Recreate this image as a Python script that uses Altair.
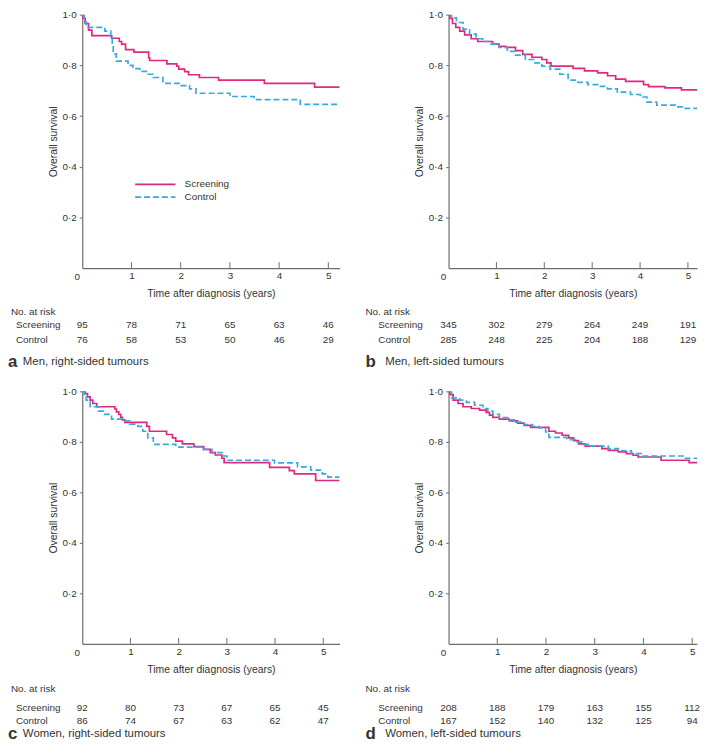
import altair as alt
import pandas as pd

PINK = "#e0287d"
BLUE = "#3aa9de"
TXT = "#333333"
AX = "#6e6e6e"
FONT = "Liberation Sans"
GROUPS = ["Screening", "Control"]
TIME_TICKS = [0, 1, 2, 3, 4, 5]
Y_TICKS = [0.2, 0.4, 0.6, 0.8, 1.0]

# ---- Panel a: Men, right-sided tumours
A_SCR_T = [0, 0.013, 0.06, 0.128, 0.195, 0.598, 0.753, 0.80, 0.88, 1.05, 1.35, 1.37, 1.72, 1.92, 1.96, 2.08, 2.16, 2.38, 2.77, 3.70, 4.72, 5.23]
A_SCR_S = [1.0, 0.985, 0.965, 0.939, 0.917, 0.907, 0.894, 0.884, 0.862, 0.852, 0.83, 0.819, 0.806, 0.797, 0.785, 0.775, 0.763, 0.752, 0.742, 0.729, 0.714, 0.714]
A_CTL_T = [0, 0.04, 0.08, 0.46, 0.58, 0.61, 0.63, 0.69, 0.93, 1.03, 1.17, 1.34, 1.44, 1.64, 2.01, 2.18, 2.31, 3.0, 3.49, 4.43, 5.23]
A_CTL_S = [1.0, 0.972, 0.95, 0.935, 0.914, 0.88, 0.845, 0.817, 0.80, 0.787, 0.776, 0.765, 0.752, 0.729, 0.72, 0.707, 0.69, 0.677, 0.665, 0.646, 0.646]
A_RISK_SCR = [95, 78, 71, 65, 63, 46]
A_RISK_CTL = [76, 58, 53, 50, 46, 29]

# ---- Panel b: Men, left-sided tumours
B_SCR_T = [0, 0.027, 0.082, 0.151, 0.233, 0.336, 0.473, 0.61, 0.919, 1.056, 1.193, 1.399, 1.55, 1.742, 1.948, 2.051, 2.14, 2.6, 2.84, 3.114, 3.32, 3.49, 3.697, 4.074, 4.177, 4.52, 4.863, 5.274, 5.33]
B_SCR_S = [1.0, 0.985, 0.965, 0.95, 0.935, 0.92, 0.905, 0.894, 0.884, 0.875, 0.871, 0.858, 0.843, 0.832, 0.823, 0.81, 0.797, 0.788, 0.778, 0.770, 0.759, 0.746, 0.737, 0.724, 0.716, 0.711, 0.703, 0.694, 0.694]
B_CTL_T = [0, 0.062, 0.165, 0.302, 0.439, 0.576, 0.713, 0.885, 1.056, 1.228, 1.399, 1.605, 1.776, 1.948, 2.119, 2.325, 2.497, 2.702, 2.908, 3.114, 3.32, 3.525, 3.8, 4.005, 4.143, 4.348, 4.76, 4.897, 5.24, 5.33]
B_CTL_S = [1.0, 0.987, 0.969, 0.943, 0.923, 0.905, 0.894, 0.884, 0.871, 0.855, 0.84, 0.823, 0.81, 0.797, 0.785, 0.765, 0.742, 0.733, 0.724, 0.717, 0.707, 0.694, 0.685, 0.675, 0.655, 0.643, 0.636, 0.63, 0.613, 0.613]
B_RISK_SCR = [345, 302, 279, 264, 249, 191]
B_RISK_CTL = [285, 248, 225, 204, 188, 129]

# ---- Panel c: Women, right-sided tumours
C_SCR_T = [0, 0.061, 0.109, 0.164, 0.219, 0.301, 0.676, 0.71, 0.758, 0.799, 0.833, 0.881, 1.339, 1.393, 1.749, 1.872, 1.94, 2.077, 2.316, 2.52, 2.657, 2.76, 2.896, 2.944, 3.887, 4.296, 4.399, 4.843, 5.34]
C_SCR_S = [1.0, 0.991, 0.978, 0.965, 0.952, 0.939, 0.93, 0.919, 0.909, 0.897, 0.887, 0.877, 0.861, 0.842, 0.829, 0.816, 0.803, 0.792, 0.781, 0.77, 0.757, 0.748, 0.735, 0.718, 0.699, 0.686, 0.673, 0.647, 0.647]
C_CTL_T = [0, 0.041, 0.082, 0.164, 0.335, 0.437, 0.608, 0.881, 0.984, 1.154, 1.257, 1.359, 1.475, 1.94, 2.486, 2.691, 2.93, 2.999, 3.989, 4.467, 4.74, 4.98, 5.096, 5.34]
C_CTL_S = [1.0, 0.984, 0.965, 0.939, 0.922, 0.909, 0.89, 0.883, 0.87, 0.861, 0.842, 0.816, 0.79, 0.779, 0.77, 0.757, 0.744, 0.727, 0.717, 0.701, 0.688, 0.673, 0.66, 0.66]
C_RISK_SCR = [92, 80, 73, 67, 65, 45]
C_RISK_CTL = [86, 74, 67, 63, 62, 47]

# ---- Panel d: Women, left-sided tumours
D_SCR_T = [0, 0.027, 0.095, 0.196, 0.298, 0.467, 0.637, 0.772, 0.84, 0.908, 1.043, 1.247, 1.416, 1.551, 1.687, 2.06, 2.195, 2.33, 2.466, 2.568, 2.669, 2.805, 3.144, 3.279, 3.482, 3.652, 3.787, 3.889, 4.363, 4.939, 5.28]
D_SCR_S = [1.0, 0.987, 0.965, 0.952, 0.939, 0.932, 0.926, 0.917, 0.906, 0.897, 0.89, 0.883, 0.874, 0.865, 0.857, 0.842, 0.835, 0.826, 0.816, 0.805, 0.792, 0.783, 0.773, 0.766, 0.76, 0.753, 0.747, 0.74, 0.727, 0.718, 0.718]
D_CTL_T = [0, 0.061, 0.23, 0.366, 0.535, 0.705, 0.806, 0.908, 1.043, 1.247, 1.382, 1.551, 1.721, 1.856, 1.992, 2.06, 2.432, 2.602, 2.737, 2.873, 3.279, 3.482, 3.753, 3.957, 4.837, 5.28]
D_CTL_S = [1.0, 0.974, 0.965, 0.956, 0.945, 0.932, 0.922, 0.909, 0.896, 0.887, 0.878, 0.868, 0.861, 0.855, 0.839, 0.818, 0.809, 0.8, 0.79, 0.783, 0.773, 0.764, 0.753, 0.744, 0.735, 0.735]
D_RISK_SCR = [208, 188, 179, 163, 155, 112]
D_RISK_CTL = [167, 152, 140, 132, 125, 94]


def make_panel(scr_t, scr_s, ctl_t, ctl_s, risk_scr, risk_ctl, letter, caption,
               xmax, W, H, offs, lefts, legend=False):
    curves = pd.DataFrame({
        "t": scr_t + ctl_t,
        "s": scr_s + ctl_s,
        "group": ["Screening"] * len(scr_t) + ["Control"] * len(ctl_t),
    })
    xs = alt.Scale(domain=[0, xmax], nice=False, zero=False)
    ys = alt.Scale(domain=[0, 1], nice=False)
    color = alt.Color("group:N", scale=alt.Scale(domain=GROUPS, range=[PINK, BLUE]), legend=None)
    dash = alt.StrokeDash("group:N", scale=alt.Scale(domain=GROUPS, range=[[1, 0], [6, 3]]), legend=None)

    xaxis = alt.Axis(values=TIME_TICKS[1:], title="Time after diagnosis (years)",
                     ticks=False, tickSize=0, labelPadding=3, titlePadding=8,
                     labelFlush=False, grid=False)
    yaxis = alt.Axis(values=Y_TICKS, labelExpr="replace(format(datum.value, '.1f'), '.', '·')",
                     title="Overall survival", tickSize=3, labelPadding=3, titlePadding=4,
                     labelFlush=False, grid=False)

    def X(field):
        return alt.X(field, scale=xs, axis=xaxis)

    def Y(field):
        return alt.Y(field, scale=ys, axis=yaxis)

    lines = alt.Chart(curves).mark_line(interpolate="step-after", strokeWidth=1.7, clip=True).encode(
        x=X("t:Q"), y=Y("s:Q"), color=color, strokeDash=dash, detail="group:N",
    )

    ticks = alt.Chart(pd.DataFrame({"t": TIME_TICKS[1:]})).mark_rule(color=AX, strokeWidth=1).encode(
        x=X("t:Q"), y=alt.value(H), y2=alt.value(H - 6)
    )
    zero = alt.Chart(pd.DataFrame({"label": [str(TIME_TICKS[0])]})).mark_text(
        fontSize=10, color=TXT, dx=-5, dy=9, font=FONT
    ).encode(x=alt.XDatum(0, scale=xs, axis=xaxis), y=alt.YDatum(0, scale=ys, axis=yaxis), text="label:N")

    def txt(values, y, x=None, align="center", size=10, weight="normal"):
        df = pd.DataFrame({"t": TIME_TICKS[:len(values)], "label": [str(v) for v in values]})
        m = alt.Chart(df).mark_text(fontSize=size, color=TXT, align=align, baseline="middle",
                                    fontWeight=weight, font=FONT)
        if x is None:
            return m.encode(x=X("t:Q"), y=alt.value(y), text="label:N")
        return m.encode(x=alt.value(x), y=alt.value(y), text="label:N")

    layers = [lines, ticks, zero,
              txt(risk_scr, H + offs[1]),
              txt(risk_ctl, H + offs[2]),
              txt(["No. at risk"], H + offs[0], x=lefts[0], align="left"),
              txt(["Screening"], H + offs[1], x=lefts[1], align="left"),
              txt(["Control"], H + offs[2], x=lefts[1], align="left"),
              txt([letter], H + offs[3], x=lefts[2], align="left", size=17, weight="bold"),
              txt([caption], H + offs[3], x=lefts[3], align="left", size=11.5)]

    if legend:
        leg_s = alt.Chart(pd.DataFrame({"group": ["Screening"]})).mark_rule(strokeWidth=1.7).encode(
            x=alt.XDatum(1.075, scale=xs, axis=xaxis), x2=alt.datum(1.895),
            y=alt.YDatum(0.33, scale=ys, axis=yaxis), color=color, strokeDash=dash)
        leg_c = alt.Chart(pd.DataFrame({"group": ["Control"]})).mark_rule(strokeWidth=1.7).encode(
            x=alt.XDatum(1.075, scale=xs, axis=xaxis), x2=alt.datum(1.895),
            y=alt.YDatum(0.28, scale=ys, axis=yaxis), color=color, strokeDash=dash)
        lab = alt.Chart(pd.DataFrame({"group": GROUPS, "pos": [0.33, 0.28]})).mark_text(
            align="left", baseline="middle", fontSize=10, color=TXT, font=FONT
        ).encode(x=alt.XDatum(2.08, scale=xs, axis=xaxis), y=Y("pos:Q"), text="group:N")
        layers += [leg_s, leg_c, lab]

    return alt.layer(*layers).properties(width=W, height=H)


TOP_OFFS = [44.5, 57.5, 72.5, 94.5]
BOT_OFFS = [46, 64.5, 78, 91.5]
pa = make_panel(A_SCR_T, A_SCR_S, A_CTL_T, A_CTL_S, A_RISK_SCR, A_RISK_CTL, "a",
                "Men, right-sided tumours", 5.23, 260, 256, TOP_OFFS, [-72, -67, -75, -60], legend=True)
pb = make_panel(B_SCR_T, B_SCR_S, B_CTL_T, B_CTL_S, B_RISK_SCR, B_RISK_CTL, "b",
                "Men, left-sided tumours", 5.19, 251, 256, TOP_OFFS, [-84, -71, -84, -64])
pc = make_panel(C_SCR_T, C_SCR_S, C_CTL_T, C_CTL_S, C_RISK_SCR, C_RISK_CTL, "c",
                "Women, right-sided tumours", 5.34, 260, 255, BOT_OFFS, [-72, -67, -75, -60])
pd_ = make_panel(D_SCR_T, D_SCR_S, D_CTL_T, D_CTL_S, D_RISK_SCR, D_RISK_CTL, "d",
                 "Women, left-sided tumours", 5.10, 251, 255, BOT_OFFS, [-84, -71, -84, -64])

chart = alt.concat(
    pa, pb, pc, pd_, columns=2,
    spacing=alt.RowColnumber(row=124.5, column=110), bounds="flush"
).properties(
    padding={"left": 0, "top": -2, "right": 0, "bottom": 0}
).configure(font=FONT).configure_view(stroke=None).configure_axis(
    labelFontSize=10, labelColor=TXT, titleColor=TXT, titleFontSize=10.5, titleFontWeight="normal",
    domainColor=AX, tickColor=AX, domainWidth=1.2, labelFont=FONT, titleFont=FONT
)

chart.save("out.html", embed_options={"renderer": "svg", "actions": False})
